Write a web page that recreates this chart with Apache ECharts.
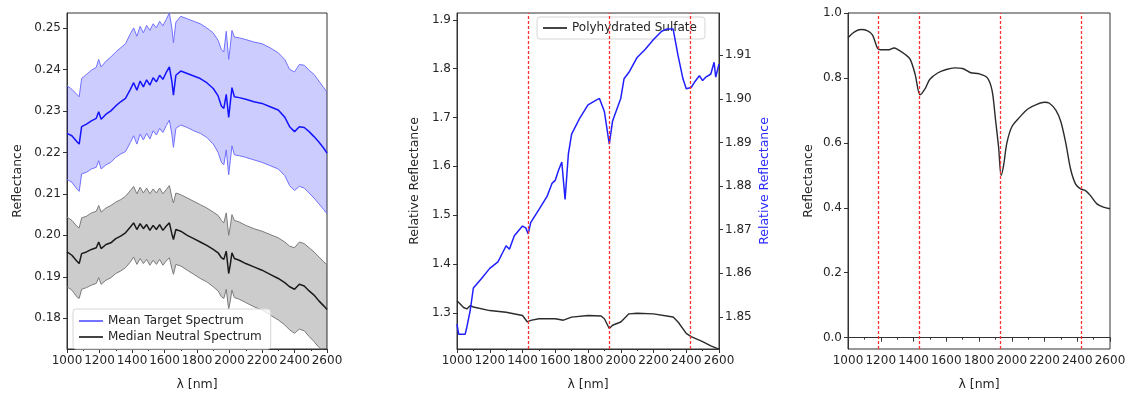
<!DOCTYPE html>
<html>
<head>
<meta charset="utf-8">
<script src="https://cdn.jsdelivr.net/npm/echarts@6/dist/echarts.min.js"></script>
<style>
  html, body { margin: 0; padding: 0; background: #fff; }
  #chart { width: 1135px; height: 396px; }
</style>
</head>
<body>
<div id="chart"></div>
<script>
// ---- left panel: target vs neutral spectra ----
var wlA = [1000, 1030, 1060, 1075, 1090, 1120, 1150, 1180, 1195, 1210, 1240, 1270, 1300, 1330, 1360, 1390,
  1410, 1430, 1450, 1470, 1490, 1510, 1530, 1550, 1570, 1590, 1610, 1630, 1645, 1655, 1670, 1700,
  1740, 1780, 1820, 1860, 1900, 1930, 1950, 1965, 1980, 1995, 2005, 2015, 2030, 2060, 2100, 2150,
  2200, 2250, 2300, 2340, 2370, 2400, 2430, 2460, 2490, 2520, 2550, 2580, 2600];
var meanTarget = [.2246, .2240, .2226, .2220, .2262, .2268, .2276, .2282, .2298, .2280, .2292, .2300, .2312, .2322, .2330, .2352,
  .2368, .2350, .2372, .2358, .2375, .2362, .2380, .2370, .2386, .2376, .2392, .2406, .2372, .2338, .2386, .2396,
  .2390, .2384, .2378, .2368, .2354, .2336, .2312, .2306, .2340, .2284, .2320, .2356, .2334, .2332, .2328, .2322,
  .2318, .2310, .2302, .2285, .2262, .2250, .2262, .2260, .2250, .2238, .2225, .2210, .2198];
var targetUpper = [.2361, .2352, .2340, .2334, .2378, .2388, .2398, .2405, .2424, .2406, .2420, .2430, .2442, .2452, .2462, .2486,
  .2500, .2480, .2504, .2488, .2506, .2494, .2510, .2500, .2516, .2505, .2520, .2536, .2500, .2464, .2514, .2528,
  .2522, .2516, .2510, .2500, .2488, .2470, .2448, .2442, .2492, .2424, .2456, .2494, .2478, .2476, .2472, .2466,
  .2462, .2452, .2440, .2424, .2400, .2394, .2412, .2410, .2398, .2388, .2372, .2356, .2345];
var targetLower = [.2135, .2128, .2112, .2106, .2148, .2152, .2160, .2164, .2180, .2160, .2170, .2176, .2188, .2196, .2202, .2224,
  .2240, .2220, .2244, .2230, .2246, .2232, .2252, .2242, .2258, .2248, .2264, .2278, .2244, .2212, .2258, .2266,
  .2260, .2252, .2246, .2236, .2220, .2200, .2176, .2170, .2206, .2146, .2180, .2216, .2194, .2192, .2188, .2182,
  .2176, .2168, .2160, .2144, .2120, .2108, .2118, .2114, .2102, .2090, .2076, .2062, .2052];
var medianNeutral = [.1960, .1952, .1938, .1932, .1956, .1960, .1966, .1970, .1984, .1968, .1978, .1982, .1992, .1998, .2006, .2020,
  .2030, .2014, .2028, .2016, .2026, .2012, .2024, .2014, .2026, .2012, .2022, .2030, .2004, .1990, .2014, .2010,
  .2000, .1992, .1984, .1976, .1966, .1958, .1946, .1942, .1962, .1908, .1930, .1958, .1944, .1940, .1932, .1924,
  .1916, .1906, .1896, .1886, .1876, .1870, .1882, .1878, .1866, .1856, .1842, .1830, .1821];
var neutralUpper = [.2044, .2036, .2022, .2018, .2042, .2046, .2054, .2058, .2072, .2056, .2066, .2072, .2080, .2086, .2094, .2108,
  .2118, .2100, .2116, .2102, .2114, .2100, .2112, .2102, .2114, .2100, .2110, .2120, .2092, .2078, .2102, .2098,
  .2090, .2082, .2074, .2066, .2056, .2048, .2036, .2030, .2054, .2000, .2022, .2050, .2036, .2032, .2024, .2016,
  .2010, .2002, .1994, .1984, .1974, .1970, .1984, .1980, .1970, .1960, .1948, .1936, .1929];
var neutralLower = [.1876, .1868, .1852, .1848, .1870, .1874, .1880, .1884, .1898, .1882, .1892, .1898, .1908, .1914, .1922, .1936,
  .1948, .1930, .1944, .1932, .1942, .1928, .1940, .1930, .1942, .1928, .1938, .1946, .1920, .1906, .1930, .1926,
  .1916, .1906, .1896, .1888, .1876, .1866, .1852, .1848, .1870, .1822, .1842, .1868, .1850, .1846, .1838, .1828,
  .1820, .1808, .1796, .1784, .1772, .1764, .1774, .1770, .1756, .1744, .1730, .1722, .1716];
var ticksA = [0.18, 0.19, 0.20, 0.21, 0.22, 0.23, 0.24, 0.25];

// ---- middle panel: polyhydrated sulfate ratio ----
var wlB = [1000, 1040, 1060, 1080, 1100, 1200, 1300, 1400, 1430, 1450, 1500, 1600, 1650, 1700, 1800, 1880,
  1900, 1930, 1950, 2000, 2020, 2050, 2100, 2200, 2300, 2320, 2350, 2400, 2430, 2500, 2550, 2600];
var sulfateLib = [1.3248, 1.3110, 1.3080, 1.3147, 1.3120, 1.3047, 1.3013, 1.2946, 1.2813, 1.2846, 1.2880, 1.2880, 1.2850, 1.2913, 1.2946, 1.2935,
  1.2880, 1.2680, 1.2746, 1.2813, 1.2880, 1.2980, 1.2993, 1.2980, 1.2926, 1.2915, 1.2813, 1.2579, 1.2512, 1.2411, 1.2324, 1.2258];
var wlC = [1000, 1010, 1050, 1060, 1080, 1100, 1150, 1200, 1250, 1280, 1300, 1320, 1350, 1400, 1420, 1435,
  1450, 1500, 1550, 1580, 1600, 1620, 1640, 1660, 1680, 1700, 1750, 1800, 1850, 1870, 1900, 1930,
  1950, 2000, 2020, 2050, 2100, 2150, 2200, 2250, 2280, 2320, 2350, 2380, 2400, 2430, 2450, 2480,
  2500, 2520, 2550, 2570, 2580, 2600];
var targetRatio = [1.8483, 1.8460, 1.8460, 1.8476, 1.8513, 1.8566, 1.8588, 1.8611, 1.8626, 1.8648, 1.8663, 1.8655, 1.8686, 1.8708, 1.8704, 1.8690,
  1.8716, 1.8746, 1.8776, 1.8806, 1.8813, 1.8836, 1.8855, 1.8769, 1.8873, 1.8919, 1.8956, 1.8986, 1.8997, 1.9001, 1.8971, 1.8896,
  1.8949, 1.9001, 1.9046, 1.9061, 1.9095, 1.9114, 1.9136, 1.9155, 1.9160, 1.9160, 1.9099, 1.9046, 1.9023, 1.9026, 1.9038, 1.9053,
  1.9042, 1.9050, 1.9057, 1.9084, 1.9050, 1.9080];
var ticksB = [1.3, 1.4, 1.5, 1.6, 1.7, 1.8, 1.9];
var ticksBRight = [1.85, 1.86, 1.87, 1.88, 1.89, 1.90, 1.91];

// ---- right panel: library spectrum ----
var wlD = [1000, 1040, 1080, 1120, 1150, 1180, 1200, 1250, 1280, 1300, 1350, 1380, 1410, 1440, 1470, 1500,
  1550, 1600, 1650, 1700, 1750, 1800, 1850, 1880, 1900, 1920, 1935, 1950, 1970, 2000, 2050, 2100,
  2150, 2200, 2230, 2270, 2300, 2330, 2360, 2390, 2420, 2450, 2480, 2520, 2560, 2600];
var libReflectance = [0.924, 0.942, 0.949, 0.945, 0.932, 0.892, 0.887, 0.887, 0.892, 0.889, 0.872, 0.857, 0.811, 0.748, 0.766, 0.796,
  0.816, 0.826, 0.831, 0.829, 0.816, 0.813, 0.801, 0.761, 0.675, 0.585, 0.500, 0.530, 0.599, 0.649, 0.680, 0.705,
  0.718, 0.725, 0.722, 0.700, 0.665, 0.599, 0.518, 0.473, 0.458, 0.453, 0.438, 0.412, 0.402, 0.397];
var ticksD = [0.0, 0.2, 0.4, 0.6, 0.8, 1.0];

// absorption feature markers
var featuresB = [1435, 1930, 2423];
var featuresD = [1185, 1435, 1930, 2423];

function pairs(xs, ys) {
  return xs.map(function (x, i) { return [x, ys[i]]; });
}

var textColor = "#262626";
var font = "DejaVu Sans";

function xAxis(gridIndex) {
  return {
    type: "value", gridIndex: gridIndex, min: 1000, max: 2600, interval: 200,
    name: "λ [nm]", nameLocation: "middle", nameGap: 29,
    nameTextStyle: { color: textColor, fontFamily: font, fontSize: 12.5 },
    axisLine: { show: true, lineStyle: { color: "#333", width: 1 } },
    axisTick: { show: true, length: 4, lineStyle: { color: "#333" } },
    minorTick: { show: true, splitNumber: 2, length: 2, lineStyle: { color: "#333" } },
    axisLabel: {
      color: textColor, fontFamily: font, fontSize: 12, margin: 6,
      formatter: function (v) { return String(v); }
    },
    splitLine: { show: false }
  };
}
function yAxis(gridIndex, min, max, ticks, digits, name, gap, extra) {
  var ax = {
    type: "value", gridIndex: gridIndex, min: min, max: max,
    name: name, nameLocation: "middle", nameGap: gap,
    nameTextStyle: { color: textColor, fontFamily: font, fontSize: 12.5 },
    axisLine: { show: true, lineStyle: { color: "#333", width: 1 } },
    axisTick: { show: true, length: 4, lineStyle: { color: "#333" }, customValues: ticks },
    axisLabel: {
      color: textColor, fontFamily: font, fontSize: 12, margin: 6, customValues: ticks,
      formatter: function (v) { return v.toFixed(digits); }
    },
    splitLine: { show: false }
  };
  return Object.assign(ax, extra || {});
}
function vlines(xs) {
  return {
    silent: true, symbol: "none", label: { show: false },
    lineStyle: { color: "#ff3030", type: [3, 2], width: 1.3 },
    data: xs.map(function (x) { return { xAxis: x }; })
  };
}
// shaded spread between a lower and upper curve, placed through the axis scales
function band(xs, lo, hi, fill) {
  return {
    type: "custom", xAxisIndex: 0, yAxisIndex: 0, clip: true, silent: true, z: 1,
    data: xs.map(function (x, i) { return [x, lo[i], hi[i]]; }),
    encode: { x: 0, y: [1, 2] },
    renderItem: function (params, api) {
      if (params.dataIndex !== 0) return;
      var pts = [];
      for (var i = 0; i < xs.length; i++) pts.push(api.coord([xs[i], hi[i]]));
      for (var j = xs.length - 1; j >= 0; j--) pts.push(api.coord([xs[j], lo[j]]));
      return { type: "polygon", shape: { points: pts }, style: { fill: fill } };
    }
  };
}
var gridBox = { show: true, borderColor: "#333", borderWidth: 1, backgroundColor: "transparent" };

var option = {
  animation: false,
  grid: [
    Object.assign({ left: 67, right: 808, top: 13, bottom: 42 }, gridBox),
    Object.assign({ left: 457, right: 416, top: 13, bottom: 42 }, gridBox),
    Object.assign({ left: 848, right: 25, top: 13, bottom: 42 }, gridBox)
  ],
  xAxis: [xAxis(0), xAxis(1), xAxis(2)],
  yAxis: [
    yAxis(0, 0.1726, 0.2536, ticksA, 2, "Reflectance", 43),
    yAxis(1, 1.226, 1.914, ticksB, 1, "Relative Reflectance", 36),
    yAxis(1, 1.8426, 1.9197, ticksBRight, 2, "Relative Reflectance", 39, {
      position: "right",
      nameTextStyle: { color: "#2a2aff", fontFamily: font, fontSize: 12.5 }
    }),
    yAxis(2, -0.035, 1.0, ticksD, 1, "Reflectance", 33)
  ],
  legend: [
    {
      left: 73, top: 309, orient: "vertical", itemGap: 4, itemWidth: 24, itemHeight: 2,
      padding: [6, 9, 6, 6], backgroundColor: "rgba(255,255,255,0.8)",
      borderColor: "#d6d6d6", borderWidth: 1, borderRadius: 3,
      textStyle: { color: textColor, fontFamily: font, fontSize: 12 },
      data: [
        { name: "Mean Target Spectrum", icon: "rect", itemStyle: { color: "#7373ff" } },
        { name: "Median Neutral Spectrum", icon: "rect", itemStyle: { color: "#444" } }
      ]
    },
    {
      left: 537, top: 17, z: 1, itemWidth: 24, itemHeight: 2,
      padding: [5, 8, 5, 6], backgroundColor: "rgba(255,255,255,0.8)",
      borderColor: "#d6d6d6", borderWidth: 1, borderRadius: 3,
      textStyle: { color: textColor, fontFamily: font, fontSize: 12 },
      data: [{ name: "Polyhydrated Sulfate", icon: "rect", itemStyle: { color: "#444" } }]
    }
  ],
  series: [
    band(wlA, targetLower, targetUpper, "rgba(0,0,255,0.2)"),
    band(wlA, neutralLower, neutralUpper, "rgba(0,0,0,0.2)"),
    // band edges
    { name: "targetUpper", type: "line", xAxisIndex: 0, yAxisIndex: 0, symbol: "none",
      lineStyle: { color: "#7070ff", width: 1 }, data: pairs(wlA, targetUpper) },
    { name: "targetLower", type: "line", xAxisIndex: 0, yAxisIndex: 0, symbol: "none",
      lineStyle: { color: "#7070ff", width: 1 }, data: pairs(wlA, targetLower) },
    { name: "neutralUpper", type: "line", xAxisIndex: 0, yAxisIndex: 0, symbol: "none",
      lineStyle: { color: "#7a7a7a", width: 1 }, data: pairs(wlA, neutralUpper) },
    { name: "neutralLower", type: "line", xAxisIndex: 0, yAxisIndex: 0, symbol: "none",
      lineStyle: { color: "#7a7a7a", width: 1 }, data: pairs(wlA, neutralLower) },
    { name: "Mean Target Spectrum", type: "line", xAxisIndex: 0, yAxisIndex: 0, symbol: "none",
      lineStyle: { color: "#1414ff", width: 1.5 }, itemStyle: { color: "#1414ff" },
      data: pairs(wlA, meanTarget) },
    { name: "Median Neutral Spectrum", type: "line", xAxisIndex: 0, yAxisIndex: 0, symbol: "none",
      lineStyle: { color: "#1a1a1a", width: 1.5 }, itemStyle: { color: "#1a1a1a" },
      data: pairs(wlA, medianNeutral) },

    // middle
    { name: "Polyhydrated Sulfate", type: "line", xAxisIndex: 1, yAxisIndex: 1, symbol: "none",
      lineStyle: { color: "#2b2b2b", width: 1.4 }, itemStyle: { color: "#2b2b2b" },
      data: pairs(wlB, sulfateLib), markLine: vlines(featuresB) },
    { name: "Target Ratio", type: "line", xAxisIndex: 1, yAxisIndex: 2, symbol: "none",
      lineStyle: { color: "#2020ff", width: 1.5 }, itemStyle: { color: "#2020ff" },
      data: pairs(wlC, targetRatio) },

    // right
    { name: "Library Spectrum", type: "line", xAxisIndex: 2, yAxisIndex: 3, symbol: "none", smooth: 0.3,
      lineStyle: { color: "#2b2b2b", width: 1.4 }, itemStyle: { color: "#2b2b2b" },
      data: pairs(wlD, libReflectance), markLine: vlines(featuresD) }
  ]
};

var chart = echarts.init(document.getElementById("chart"), null, { renderer: "canvas" });
chart.setOption(option);
</script>
</body>
</html>
